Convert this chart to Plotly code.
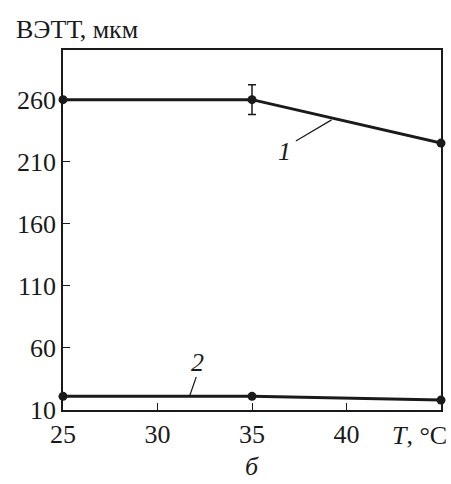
import plotly.graph_objects as go

# Data
temps = [25, 35, 45]
vett_1 = [260, 260, 225]
vett_1_err = [0, 12, 0]
vett_2 = [21, 21, 18]

x_ticks = [25, 30, 35, 40]
y_ticks = [10, 60, 110, 160, 210, 260]

FONT = "Liberation Serif"
FS = 26
INK = "#1a1a1a"

fig = go.Figure()
fig.add_trace(go.Scatter(
    x=temps, y=vett_1, mode="lines+markers",
    line=dict(color=INK, width=3),
    marker=dict(size=9, color=INK),
    error_y=dict(type="data", array=vett_1_err, visible=True,
                 color=INK, thickness=1.5, width=4),
    showlegend=False, cliponaxis=False,
))
fig.add_trace(go.Scatter(
    x=temps, y=vett_2, mode="lines+markers",
    line=dict(color=INK, width=3),
    marker=dict(size=9, color=INK),
    showlegend=False, cliponaxis=False,
))

# leader lines
fig.add_shape(type="line", x0=37.32, y0=226.7, x1=39.21, y1=243.7,
              line=dict(color=INK, width=1.2))
fig.add_shape(type="line", x0=32.05, y0=36.6, x1=31.68, y1=20.5,
              line=dict(color=INK, width=1.2))

fig.add_annotation(x=36.74, y=217.9, text="<i>1</i>", showarrow=False,
                   font=dict(family=FONT, size=FS, color=INK))
fig.add_annotation(x=32.1, y=47.9, text="<i>2</i>", showarrow=False,
                   font=dict(family=FONT, size=FS, color=INK))

# axis labels
fig.add_annotation(xref="paper", yref="paper", x=-0.13, y=1.012,
                   xanchor="left", yanchor="bottom",
                   text="ВЭТТ, мкм", showarrow=False,
                   font=dict(family=FONT, size=FS, color=INK))
fig.add_annotation(xref="paper", yref="paper", x=1.02, y=-0.025,
                   xanchor="right", yanchor="top",
                   text="<i>T</i>, °C", showarrow=False,
                   font=dict(family=FONT, size=FS, color=INK))
fig.add_annotation(xref="paper", yref="paper", x=0.5, y=-0.11,
                   xanchor="center", yanchor="top",
                   text="<i>б</i>", showarrow=False,
                   font=dict(family=FONT, size=FS, color=INK))

fig.update_xaxes(range=[25, 45], tickvals=x_ticks, ticks="inside", ticklen=7,
                 tickwidth=1.2, tickcolor=INK,
                 showline=True, linecolor=INK, linewidth=1.5, mirror=True,
                 showgrid=False, zeroline=False,
                 tickfont=dict(family=FONT, size=FS, color=INK))
fig.update_yaxes(range=[10, 300], tickvals=y_ticks, ticks="inside", ticklen=7,
                 tickwidth=1.2, tickcolor=INK,
                 showline=True, linecolor=INK, linewidth=1.5, mirror=True,
                 showgrid=False, zeroline=False,
                 tickfont=dict(family=FONT, size=FS, color=INK))

fig.update_layout(
    width=451, height=484,
    margin=dict(l=63, r=8, t=50, b=74),
    plot_bgcolor="white", paper_bgcolor="white",
    font=dict(family=FONT, color=INK),
)

fig.write_html("out.html", config={"displayModeBar": False},
               post_script="document.body.style.margin='0';document.body.style.overflow='hidden';")
